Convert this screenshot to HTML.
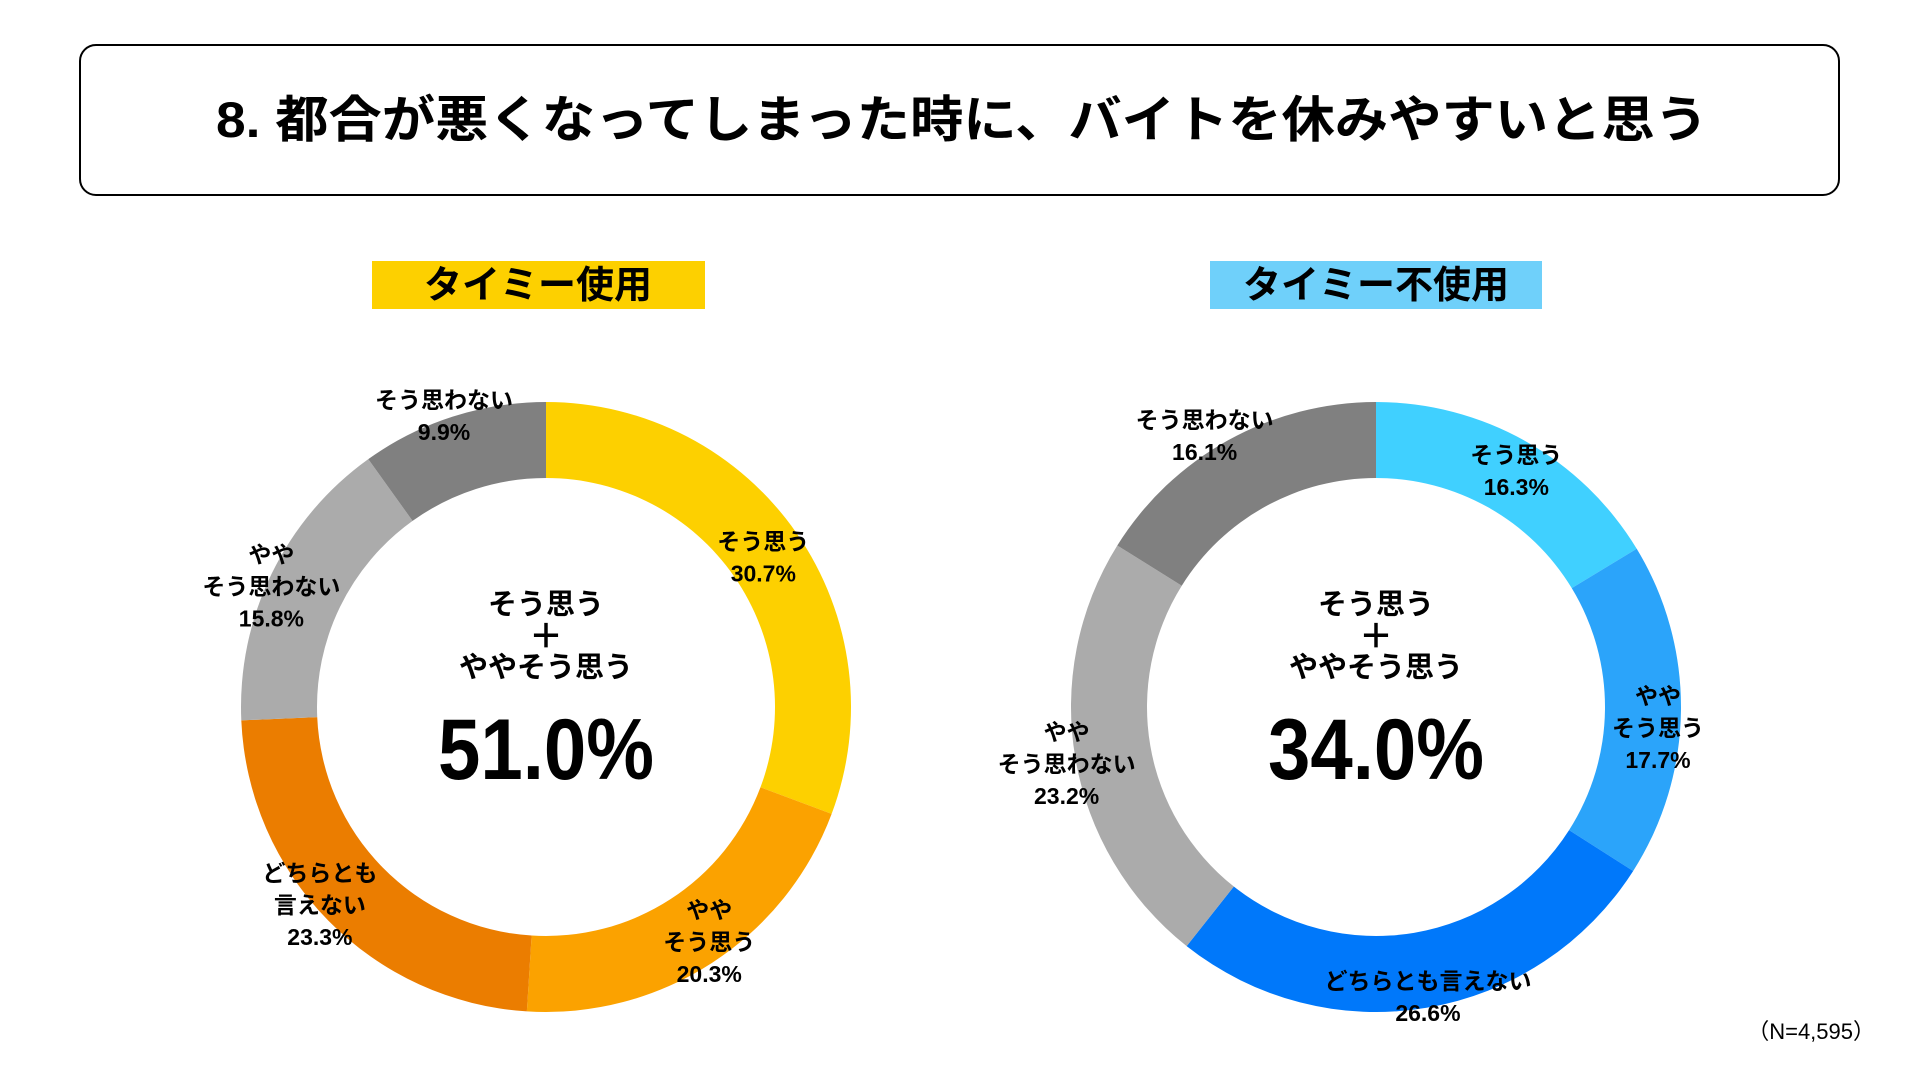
<!DOCTYPE html>
<html><head><meta charset="utf-8">
<style>
html,body{margin:0;padding:0;background:#fff;}
svg{display:block;}
text{font-family:"Liberation Sans","Noto Sans CJK JP",sans-serif;font-weight:bold;fill:#000;}
</style></head>
<body>
<svg id="chart" width="1920" height="1080" viewBox="0 0 1920 1080">
<rect x="80" y="45" width="1759" height="150" rx="16" fill="#fff" stroke="#000" stroke-width="2"/>
<text x="962" y="137" font-size="50" text-anchor="middle" textLength="1492" lengthAdjust="spacingAndGlyphs">8. 都合が悪くなってしまった時に、バイトを休みやすいと思う</text>
<rect x="372" y="261" width="333" height="48" fill="#FDD000"/>
<text x="538" y="298" font-size="38" text-anchor="middle">タイミー使用</text>
<rect x="1210" y="261" width="332" height="48" fill="#6FD0FA"/>
<text x="1376" y="298" font-size="38" text-anchor="middle">タイミー不使用</text>
<text x="1875" y="1039" font-size="22" text-anchor="end" style="font-weight:normal">（N=4,595）</text>
<g id="donuts"></g>
</svg>
<script>
const leftCategories = ["そう思う","ややそう思う","どちらとも言えない","ややそう思わない","そう思わない"];
const leftValues = [30.7, 20.3, 23.3, 15.8, 9.9];
const leftColors = ["#FDD000","#FBA200","#EB7D00","#ABABAB","#808080"];
const leftTotal = "51.0%";
const rightCategories = ["そう思う","ややそう思う","どちらとも言えない","ややそう思わない","そう思わない"];
const rightValues = [16.3, 17.7, 26.6, 23.2, 16.1];
const rightColors = ["#40D0FF","#2BA4FA","#0078FA","#ABABAB","#808080"];
const rightTotal = "34.0%";
const leftLabelLines = [["そう思う"],["やや","そう思う"],["どちらとも","言えない"],["やや","そう思わない"],["そう思わない"]];
const rightLabelLines = [["そう思う"],["やや","そう思う"],["どちらとも言えない"],["やや","そう思わない"],["そう思わない"]];

const NS = "http://www.w3.org/2000/svg";
const g = document.getElementById("donuts");
const R_OUT = 305, R_IN = 229;
function pt(cx, cy, r, frac){ const a = frac*2*Math.PI - Math.PI/2; return [cx + r*Math.cos(a), cy + r*Math.sin(a)]; }
function mk(tag, attrs){ const e = document.createElementNS(NS, tag); for (const k in attrs) e.setAttribute(k, attrs[k]); return e; }

function drawDonut(side, cx, cy, cats, vals, colors, lines, total, labelR, offs){
  const sum = vals.reduce((a,b)=>a+b,0);
  let acc = 0;
  vals.forEach((v,i)=>{
    const f0 = acc/sum, f1 = (acc+v)/sum; acc += v;
    const [x0,y0] = pt(cx,cy,R_OUT,f0), [x1,y1] = pt(cx,cy,R_OUT,f1);
    const [x2,y2] = pt(cx,cy,R_IN,f1), [x3,y3] = pt(cx,cy,R_IN,f0);
    const large = (f1-f0) > 0.5 ? 1 : 0;
    const p = mk("path", {d:`M${x0},${y0} A${R_OUT},${R_OUT} 0 ${large} 1 ${x1},${y1} L${x2},${y2} A${R_IN},${R_IN} 0 ${large} 0 ${x3},${y3} Z`, fill:colors[i]});
    
    
    g.appendChild(p);
    const mid = (f0+f1)/2;
    let [lx,ly] = pt(cx,cy,labelR[i],mid);
    lx += offs[i][0]; ly += offs[i][1];
    const all = lines[i].concat([v.toFixed(1)+"%"]);
    const t = mk("text", {x:lx, "font-size":23, "text-anchor":"middle"});
    
    
    all.forEach((s,j)=>{
      const ts = mk("tspan", {x:lx, y: ly - (all.length-1)*16 + j*32 + 8});
      ts.textContent = s;
      t.appendChild(ts);
    });
    g.appendChild(t);
  });
  const c = mk("text", {x:cx, "font-size":29, "text-anchor":"middle"});
  
  
  [["そう思う",614,29],["＋",648,34],["ややそう思う",677,29]].forEach(([s,y,fs])=>{ const ts = mk("tspan",{x:cx,y:y,"font-size":fs}); ts.textContent=s; c.appendChild(ts); });
  g.appendChild(c);
  const big = mk("text", {x:cx, y:779, "font-size":86, "text-anchor":"middle", textLength:216, lengthAdjust:"spacingAndGlyphs"});
  
  
  big.textContent = total;
  g.appendChild(big);
}
drawDonut("left", 546, 707, leftCategories, leftValues, leftColors, leftLabelLines, leftTotal, [262, 280, 370, 342, 330],
  [[2,0],[11,0],[38,-61],[33,29],[-1,23]]);
drawDonut("right", 1376, 707, rightCategories, rightValues, rightColors, rightLabelLines, rightTotal, [282, 282, 295, 316, 310],
  [[2,10],[0,18],[3,-1],[2,3],[-21,0]]);
</script>
</body></html>
